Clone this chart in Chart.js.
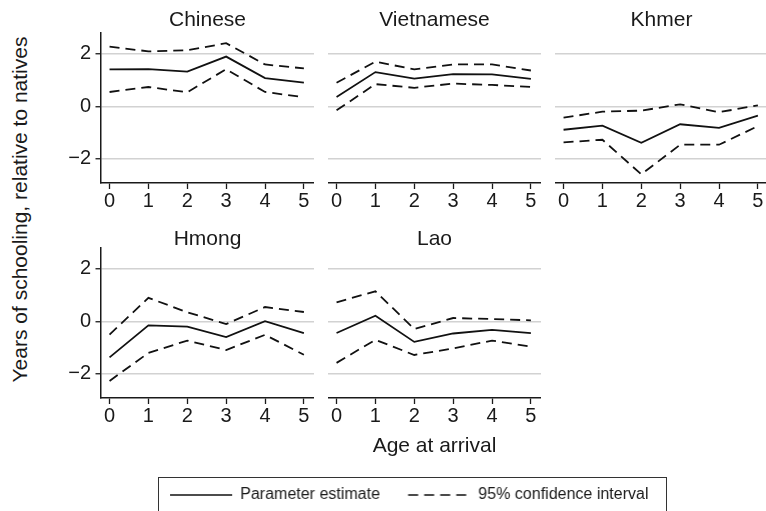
<!DOCTYPE html>
<html>
<head>
<meta charset="utf-8">
<script src="https://cdn.jsdelivr.net/npm/chart.js@4.4.1/dist/chart.umd.min.js"></script>
<style>
  html, body { margin: 0; padding: 0; background: #fff; overflow: hidden; }
  body { width: 766px; height: 511px; position: relative; font-family: "Liberation Sans", Arial, sans-serif; }
  .panel { position: absolute; }
  #ytitle {
    position: absolute; left: -191.3px; top: 198.5px; width: 420px; height: 21px;
    line-height: 21px; font-size: 21px; text-align: center; color: #1a1a1a;
    transform: rotate(-90deg); white-space: nowrap;
  }
  #legendBorder {
    position: absolute; left: 158px; top: 477px; width: 509px; height: 40px;
    border: 1.3px solid #333; box-sizing: border-box;
  }
</style>
</head>
<body>
<div id="ytitle">Years of schooling, relative to natives</div>
<div id="legendBorder"></div>
<script>
// Age at arrival (x axis)
const ages = [0, 1, 2, 3, 4, 5];
const yTicks = [-2, 0, 2];

// Chinese
const chineseEst = [1.41, 1.42, 1.33, 1.90, 1.08, 0.91];
const chineseHi = [2.28, 2.10, 2.14, 2.41, 1.60, 1.45];
const chineseLo = [0.55, 0.74, 0.54, 1.42, 0.55, 0.35];

// Vietnamese
const vietEst = [0.36, 1.31, 1.06, 1.23, 1.22, 1.05];
const vietHi = [0.90, 1.71, 1.41, 1.60, 1.60, 1.37];
const vietLo = [-0.15, 0.85, 0.71, 0.87, 0.82, 0.74];

// Khmer
const khmerEst = [-0.89, -0.73, -1.39, -0.68, -0.82, -0.35];
const khmerHi = [-0.43, -0.20, -0.16, 0.08, -0.22, 0.04];
const khmerLo = [-1.37, -1.27, -2.59, -1.46, -1.46, -0.75];

// Hmong
const hmongEst = [-1.37, -0.15, -0.20, -0.60, 0.01, -0.45];
const hmongHi = [-0.50, 0.90, 0.35, -0.10, 0.55, 0.36];
const hmongLo = [-2.27, -1.20, -0.73, -1.09, -0.51, -1.27];

// Lao
const laoEst = [-0.44, 0.22, -0.78, -0.46, -0.32, -0.45];
const laoHi = [0.73, 1.15, -0.29, 0.13, 0.09, 0.04];
const laoLo = [-1.58, -0.70, -1.28, -1.03, -0.73, -0.96];

const ink = '#1a1a1a';
const dash = [10, 6];
Chart.defaults.font.family = '"Liberation Sans", Arial, sans-serif';

//Panel placement in the page
const panels = [
    {name: 'Chinese', est: chineseEst, hi: chineseHi, lo: chineseLo, left: 50, top: 0, width: 264, height: 213, yAxis: true, row: 0, xh: 30},
    {name: 'Vietnamese', est: vietEst, hi: vietHi, lo: vietLo, left: 327.5, top: 0, width: 213, height: 213, yAxis: false, row: 0, xh: 30},
    {name: 'Khmer', est: khmerEst, hi: khmerHi, lo: khmerLo, left: 555, top: 0, width: 213, height: 213, yAxis: false, row: 0, xh: 30},
    {name: 'Hmong', est: hmongEst, hi: hmongHi, lo: hmongLo, left: 50, top: 215, width: 264, height: 213, yAxis: true, row: 1, xh: 30},
    {name: 'Lao', est: laoEst, hi: laoHi, lo: laoLo, left: 327.5, top: 215, width: 213, height: 245, yAxis: false, row: 1, xh: 62, xTitle: 'Age at arrival'}
];

function addCanvas(left, top, width, height) {
    const box = document.createElement('div');
    box.className = 'panel';
    box.style.left = left + 'px';
    box.style.top = top + 'px';
    box.style.width = width + 'px';
    box.style.height = height + 'px';
    const canvas = document.createElement('canvas');
    box.appendChild(canvas);
    document.body.appendChild(box);
    return canvas;
}

//Pairs ages with the values of one series
function toPoints(values) {
    return ages.map((a, i) => ({x: a, y: values[i]}));
}

function minusLabel(v) {
    return v < 0 ? '\u2212' + Math.abs(v) : String(v);
}

function drawPanel(p) {
    const canvas = addCanvas(p.left, p.top, p.width, p.height);
    new Chart(canvas, {
        type: 'line',
        data: {
            datasets: [
                {label: 'Parameter estimate', data: toPoints(p.est), borderColor: '#111', borderWidth: 1.8},
                {label: 'Upper 95%', data: toPoints(p.hi), borderColor: '#111', borderWidth: 1.8, borderDash: dash},
                {label: 'Lower 95%', data: toPoints(p.lo), borderColor: '#111', borderWidth: 1.8, borderDash: dash}
            ]
        },
        options: {
            responsive: true,
            maintainAspectRatio: false,
            animation: false,
            layout: {padding: 0},
            elements: {point: {radius: 0}, line: {tension: 0}},
            plugins: {
                legend: {display: false},
                tooltip: {enabled: false},
                title: {
                    display: true,
                    fullSize: false,
                    text: p.name,
                    color: ink,
                    font: {size: 21, weight: 'normal', lineHeight: 0.8},
                    padding: p.row === 0 ? {top: 12.3, bottom: 3.9} : {top: 16.2, bottom: 0}
                }
            },
            scales: {
                x: {
                    type: 'linear',
                    min: -0.22,
                    max: 5.26,
                    afterBuildTicks: s => { s.ticks = ages.map(v => ({value: v})); },
                    afterFit: s => { s.height = p.xh; },
                    grid: {drawOnChartArea: false, drawTicks: true, tickLength: 6, tickColor: ink, tickWidth: 1.3},
                    border: {color: ink, width: 1.5},
                    ticks: {color: ink, font: {size: 20}, padding: 0, maxRotation: 0, autoSkip: false},
                    title: {
                        display: !!p.xTitle,
                        text: p.xTitle || '',
                        color: ink,
                        font: {size: 21},
                        padding: {top: 0, bottom: 0.7}
                    }
                },
                y: {
                    min: -2.92,
                    max: 2.8,
                    afterBuildTicks: s => { s.ticks = yTicks.map(v => ({value: v})); },
                    afterFit: s => { s.width = p.yAxis ? 51 : 0; },
                    grid: {color: '#d2d2d2', lineWidth: 1.5, drawTicks: p.yAxis, tickLength: 5.5, tickColor: ink, tickWidth: 1.3},
                    border: {display: p.yAxis, color: ink, width: 1.5},
                    ticks: {display: p.yAxis, color: ink, font: {size: 20}, padding: 4.5, callback: v => minusLabel(v)}
                }
            }
        }
    });
}

panels.forEach(drawPanel);

//Legend drawn by its own chart (canvas runs past the page bottom so the legend box is not clipped)
const legendCanvas = addCanvas(140, 459, 537.5, 170);
new Chart(legendCanvas, {
    type: 'line',
    data: {
        datasets: [
            {label: 'Parameter estimate', data: [], borderColor: '#111', borderWidth: 1.6},
            {label: '95% confidence interval', data: [], borderColor: '#111', borderWidth: 1.6, borderDash: dash}
        ]
    },
    options: {
        responsive: true,
        maintainAspectRatio: false,
        animation: false,
        layout: {padding: 0},
        scales: {x: {display: false}, y: {display: false}},
        plugins: {
            tooltip: {enabled: false},
            legend: {
                display: true,
                position: 'top',
                onClick: null,
                labels: {
                    usePointStyle: true,
                    pointStyle: 'line',
                    pointStyleWidth: 62,
                    color: ink,
                    font: {size: 16},
                    padding: 28,
                    //point style drops the dash, so take it from the dataset
                    generateLabels: chart => Chart.defaults.plugins.legend.labels.generateLabels(chart).map((item, i) => {
                        const ds = chart.data.datasets[i];
                        item.lineDash = ds.borderDash || [];
                        item.lineWidth = ds.borderWidth;
                        item.strokeStyle = ds.borderColor;
                        return item;
                    })
                }
            }
        }
    }
});
</script>
</body>
</html>
